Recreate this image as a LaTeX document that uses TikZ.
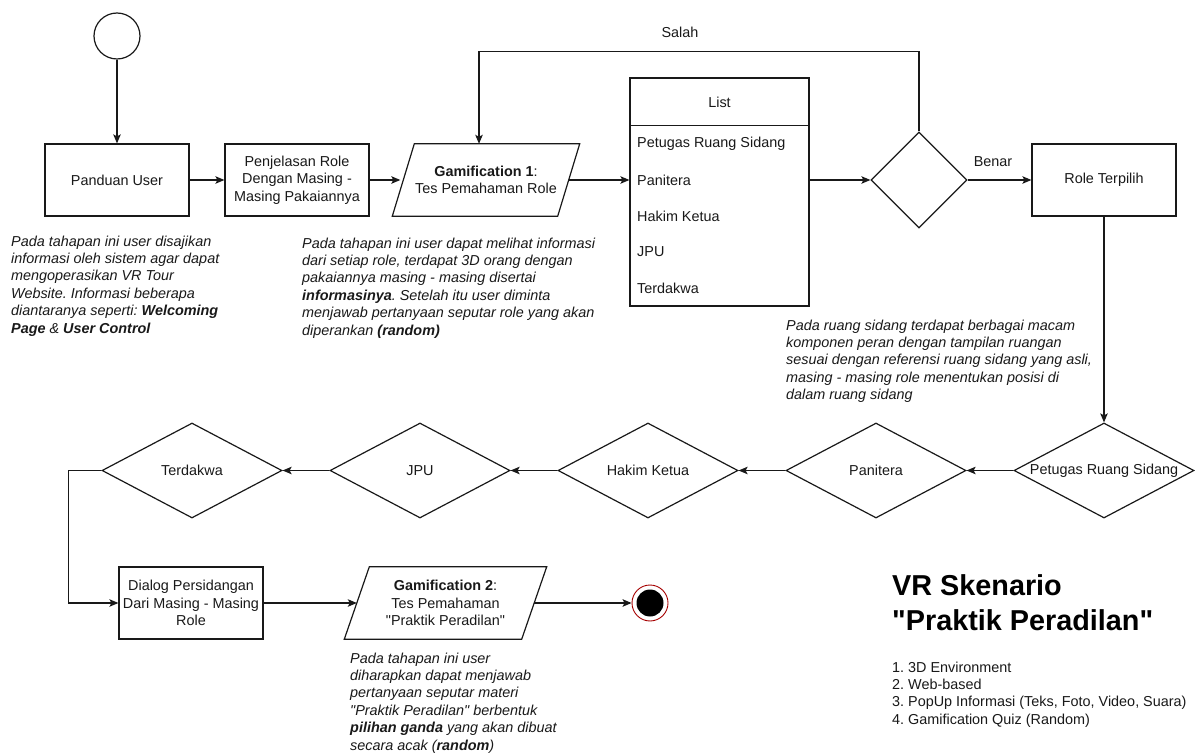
\documentclass[tikz,border=0pt]{standalone}
\usepackage{fontspec}
\setmainfont{Liberation Sans}
\newfontfamily\qfont{Liberation Sans}
\usetikzlibrary{shapes.geometric,arrows.meta,calc}
\newcommand{\sq}{{\qfont\symbol{34}}}
\frenchspacing
\begin{document}
\begin{tikzpicture}[x=1pt,y=-1pt,
  every node/.style={font=\fontsize{14.4}{17.3}\selectfont, text=black!90},
  line/.style={line width=1.2pt, draw=black!90},
  arr/.style={line, -{Stealth[length=9pt,width=7.5pt,inset=2pt]}},
  box/.style={draw=black!90, line width=1.2pt, minimum width=144pt, minimum height=72pt, align=center, inner sep=2pt},
  dia/.style={draw=black!90, line width=1.2pt, diamond, minimum width=180pt, minimum height=95pt, inner sep=0pt},
  para/.style={minimum height=72pt, align=center, inner sep=0pt},
  desc/.style={align=left, anchor=north west, inner sep=0pt, font=\itshape\fontsize{14.4}{17.4}\selectfont},
  plain/.style={inner sep=0pt}]
\fill[white] (0,0) rectangle (1195,754);
\useasboundingbox (0,0) rectangle (1195,754);

% top row
\node[draw=black!90, line width=1.2pt, circle, minimum size=46pt, inner sep=0pt] (start) at (117,36) {};
\node[box] (pand) at (117,180) {Panduan User};
\node[box] (penj) at (297,180) {Penjelasan Role\\Dengan Masing -\\Masing Pakaiannya};
\node[para, minimum width=165pt] (gam1) at (486,180) {\textbf{Gamification 1}:\\Tes Pemahaman Role};
\draw[line] ([xshift=-11pt]gam1.south west) -- ([xshift=11pt]gam1.north west)
  -- ([xshift=11pt]gam1.north east) -- ([xshift=-11pt]gam1.south east) -- cycle;

% list
\node[draw=black!90, line width=1.2pt, minimum width=179pt, minimum height=228pt, inner sep=0pt] (list) at (719.5,192) {};
\draw[line] ([yshift=-48pt]list.north west) -- ([yshift=-48pt]list.north east);
\node (lhead) at (719.5,102) {List};
\node[plain, anchor=west] (li1) at (637,144) {Petugas Ruang Sidang};
\node[plain, anchor=west] (li2) at (637,180) {Panitera};
\node[plain, anchor=west] (li3) at (637,216) {Hakim Ketua};
\node[plain, anchor=west] (li4) at (637,252) {JPU};
\node[plain, anchor=west] (li5) at (637,288) {Terdakwa};

\node[draw=black!90, line width=1.2pt, diamond, minimum width=96pt, minimum height=96pt, inner sep=0pt] (dec) at (919,180) {};
\node[box] (role) at (1104,180) {Role Terpilih};

\node[plain] (salah) at (680,32) {Salah};
\node[plain] (benar) at (993,162) {Benar};

% bottom row
\node[dia, label=center:{Petugas Ruang Sidang}] (d1) at (1104,470.5) {};
\node[dia, label=center:{Panitera}] (d2) at (876,470.5) {};
\node[dia, label=center:{Hakim Ketua}] (d3) at (648,470.5) {};
\node[dia, label=center:{JPU}] (d4) at (420,470.5) {};
\node[dia, label=center:{Terdakwa}] (d5) at (192,470.5) {};

\node[box] (dialog) at (191,603) {Dialog Persidangan\\Dari Masing - Masing\\Role};
\node[para, minimum width=177pt] (gam2) at (445.5,603) {\textbf{Gamification 2}:\\Tes Pemahaman\\\sq Praktik Peradilan\sq};
\draw[line] ([xshift=-12.5pt]gam2.south west) -- ([xshift=12.5pt]gam2.north west)
  -- ([xshift=12.5pt]gam2.north east) -- ([xshift=-12.5pt]gam2.south east) -- cycle;

\node[circle, draw=red!65!black, line width=0.9pt, fill=white, minimum size=36pt, inner sep=0pt] (end) at (650,603) {};
\node[circle, fill=black, minimum size=27pt, inner sep=0pt] (endcore) at (end.center) {};

% connectors
\draw[arr] (start) -- (pand);
\draw[arr] (pand) -- (penj);
\draw[arr] (penj.east) -- ([xshift=-3pt]gam1.west);
\draw[arr] (gam1.east) -- (gam1.east -| list.west);
\draw[arr] (list.east |- dec.west) -- (dec.west);
\draw[arr] (dec.east) -- (role.west);
\draw[arr] (dec.north) -- ++(0,-80) -| ([xshift=-7pt]gam1.north);
\draw[arr] (role.south) -- (d1.north);
\draw[arr] (d1.west) -- (d2.east);
\draw[arr] (d2.west) -- (d3.east);
\draw[arr] (d3.west) -- (d4.east);
\draw[arr] (d4.west) -- (d5.east);
\draw[arr] (d5.west) -- ++(-33,0) |- (dialog.west);
\draw[arr] (dialog.east) -- (gam2.west);
\draw[arr] (gam2.east) -- (end.west);

% descriptions
\node[desc] (descl) at (11,235.5) {Pada tahapan ini user disajikan\\informasi oleh sistem agar dapat\\mengoperasikan VR Tour\\Website. Informasi beberapa\\diantaranya seperti: \textbf{Welcoming}\\\textbf{Page} \& \textbf{User Control}};
\node[desc] (descm) at (302,237.5) {Pada tahapan ini user dapat melihat informasi\\dari setiap role, terdapat 3D orang dengan\\pakaiannya masing - masing disertai\\\textbf{informasinya}. Setelah itu user diminta\\menjawab pertanyaan seputar role yang akan\\diperankan \textbf{(random)}};
\node[desc] (descr) at (786,319.5) {Pada ruang sidang terdapat berbagai macam\\komponen peran dengan tampilan ruangan\\sesuai dengan referensi ruang sidang yang asli,\\masing - masing role menentukan posisi di\\dalam ruang sidang};
\node[desc] (descb) at (350,652.5) {Pada tahapan ini user\\diharapkan dapat menjawab\\pertanyaan seputar materi\\\sq Praktik Peradilan\sq{} berbentuk\\\textbf{pilihan ganda} yang akan dibuat\\secara acak (\textbf{random})};

% title
\node[anchor=north west, inner sep=0pt, align=left, font=\bfseries\fontsize{28.8}{35}\selectfont, text=black] (title) at (892,574) {VR Skenario\\\sq Praktik Peradilan\sq};
\node[anchor=north west, inner sep=0pt, align=left] (feat) at (892,661.5) {1. 3D Environment\\2. Web-based\\3. PopUp Informasi (Teks, Foto, Video, Suara)\\4. Gamification Quiz (Random)};
\end{tikzpicture}
\end{document}
